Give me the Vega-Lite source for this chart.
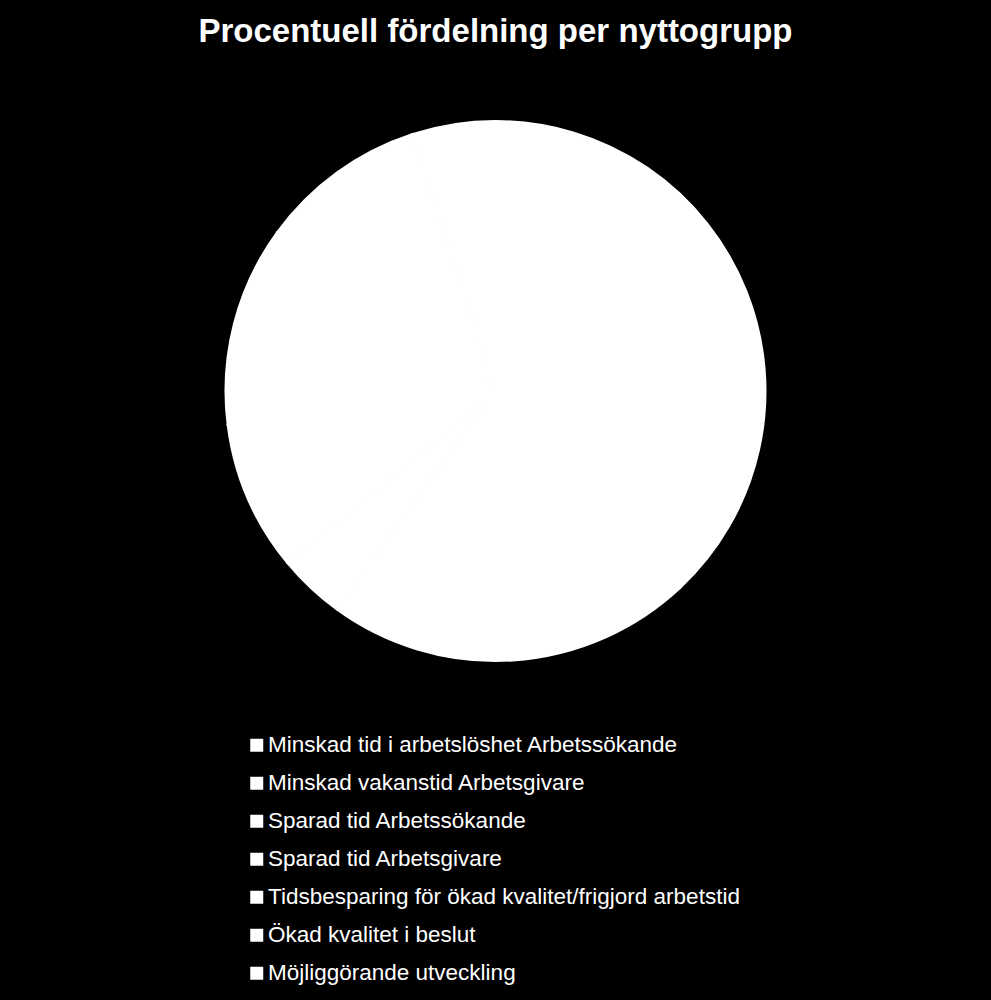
{
  "$schema": "https://vega.github.io/schema/vega-lite/v6.json",
  "width": 991,
  "height": 642,
  "autosize": {"type": "none"},
  "padding": {"top": 70, "left": 0, "right": 0, "bottom": 288},
  "background": "black",
  "title": {
    "text": "Procentuell fördelning per nyttogrupp",
    "font": "Liberation Sans",
    "fontSize": 33,
    "fontWeight": "bold",
    "color": "white",
    "anchor": "middle",
    "offset": 21
  },
  "data": {
    "values": [
      {"Nyttogrupp": "Minskad tid i arbetslöshet Arbetssökande", "Andel": 38},
      {"Nyttogrupp": "Minskad vakanstid Arbetsgivare", "Andel": 22},
      {"Nyttogrupp": "Sparad tid Arbetssökande", "Andel": 12},
      {"Nyttogrupp": "Sparad tid Arbetsgivare", "Andel": 9},
      {"Nyttogrupp": "Tidsbesparing för ökad kvalitet/frigjord arbetstid", "Andel": 10},
      {"Nyttogrupp": "Ökad kvalitet i beslut", "Andel": 5},
      {"Nyttogrupp": "Möjliggörande utveckling", "Andel": 4}
    ]
  },
  "mark": {"type": "arc", "outerRadius": 270, "stroke": "white", "strokeWidth": 2},
  "encoding": {
    "theta": {"field": "Andel", "type": "quantitative"},
    "color": {
      "field": "Nyttogrupp",
      "type": "nominal",
      "scale": {
        "domain": [
          "Minskad tid i arbetslöshet Arbetssökande",
          "Minskad vakanstid Arbetsgivare",
          "Sparad tid Arbetssökande",
          "Sparad tid Arbetsgivare",
          "Tidsbesparing för ökad kvalitet/frigjord arbetstid",
          "Ökad kvalitet i beslut",
          "Möjliggörande utveckling"
        ],
        "range": ["#ffffff", "#ffffff", "#ffffff", "#ffffff", "#ffffff", "#ffffff", "#ffffff"]
      },
      "legend": {
        "title": null,
        "orient": "none",
        "legendX": 245.5,
        "legendY": 664,
        "symbolType": "square",
        "symbolSize": 169,
        "symbolStrokeWidth": 0,
        "labelFont": "Liberation Sans",
        "labelFontSize": 22.5,
        "labelColor": "white",
        "labelOffset": 0,
        "labelLimit": 600,
        "rowPadding": 15
      }
    }
  },
  "config": {
    "view": {"stroke": null}
  }
}
